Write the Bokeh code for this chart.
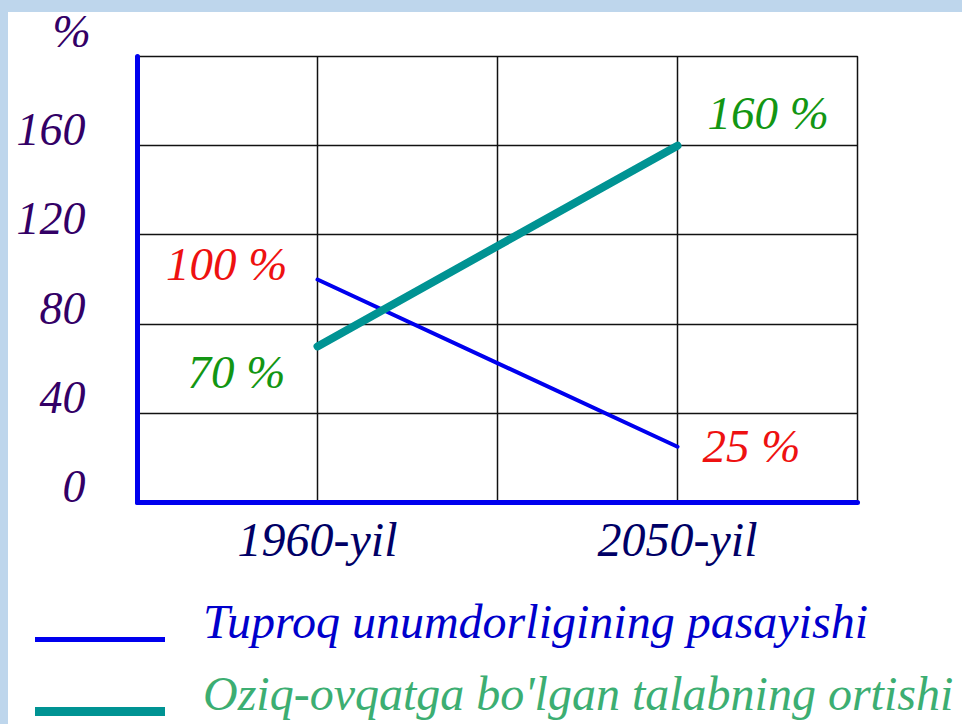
from bokeh.plotting import figure
from bokeh.layouts import column
from bokeh.models import (Range1d, LinearAxis, Grid, FixedTicker, Legend, LegendItem)
from bokeh.core.properties import value
from bokeh.embed import file_html
from bokeh.resources import INLINE

# ---- data ----
years = [1960, 2050]
year_labels = ["1960-yil", "2050-yil"]
fertility = [100, 25]          # Tuproq unumdorligi, %
demand = [70, 160]             # Oziq-ovqatga talab, %
series_names = ["Tuproq unumdorligining pasayishi",
                "Oziq-ovqatga bo'lgan talabning ortishi"]
y_ticks = [0, 40, 80, 120, 160]
y_grid = [0, 40, 80, 120, 160, 200]
x_grid = [1915, 1960, 2005, 2050, 2095]
unit_label = "%"

FONT = "Liberation Serif"
BLUE = "#0000ee"
TEAL = "#009393"
PAGE_BG = "#bed6ec"

p = figure(width=962, height=590, output_backend="svg", toolbar_location=None,
           x_range=Range1d(x_grid[0], x_grid[-1]), y_range=Range1d(y_grid[0], y_grid[-1]),
           x_axis_location=None, y_axis_location=None,
           min_border_left=137, min_border_right=105, min_border_top=56, min_border_bottom=88)
p.frame_align = False
p.center = []
p.background_fill_color = "white"
p.border_fill_alpha = 0
p.styles = {"background-color": "white", "box-shadow": f"inset 8px 12px 0 0 {PAGE_BG}"}
p.outline_line_color = "#111111"
p.outline_line_width = 1.5

# grids
p.add_layout(Grid(dimension=0, ticker=FixedTicker(ticks=x_grid),
                  grid_line_color="#111111", grid_line_width=1.5), "center")
p.add_layout(Grid(dimension=1, ticker=FixedTicker(ticks=y_grid),
                  grid_line_color="#111111", grid_line_width=1.5), "center")

# y label range shifted so labels sit on the grid lines
px_per_unit = 446 / (y_grid[-1] - y_grid[0])
shift = 16 / px_per_unit
p.extra_y_ranges = {"lab": Range1d(y_grid[0] - shift, y_grid[-1] - shift)}

yax = LinearAxis(y_range_name="lab", ticker=FixedTicker(ticks=y_ticks),
                 axis_line_color=BLUE, axis_line_width=5, axis_line_cap="round",
                 major_tick_line_color=None, minor_tick_line_color=None,
                 major_tick_out=0, major_tick_in=0, major_label_standoff=52,
                 major_label_text_font=FONT, major_label_text_font_style="italic",
                 major_label_text_font_size="46px", major_label_text_color="#330066")
p.add_layout(yax, "left")

xax = LinearAxis(ticker=FixedTicker(ticks=years),
                 major_label_overrides={y: l for y, l in zip(years, year_labels)},
                 axis_line_color=BLUE, axis_line_width=5, axis_line_cap="round",
                 major_tick_line_color=None, minor_tick_line_color=None,
                 major_tick_out=0, major_tick_in=0, major_label_standoff=10,
                 major_label_text_font=FONT, major_label_text_font_style="italic",
                 major_label_text_font_size="48px", major_label_text_color="#000066")
p.add_layout(xax, "below")

# unit label "%" as title
p.title.text = unit_label
p.title.align = "left"
p.title.offset = -85
p.title.standoff = 0
p.title.text_font = FONT
p.title.text_font_style = "italic"
p.title.text_font_size = "46px"
p.title.text_color = "#330066"

# lines
r_fert = p.line(years, fertility, line_color=BLUE, line_width=4, line_cap="round")
r_dem = p.line(years, demand, line_color=TEAL, line_width=8, line_cap="round")

RED = "#ee1111"
GREEN = "#139613"
def ann(x, y, txt, color, align, dx, dy):
    p.text(x=[x], y=[y], text=[txt], text_color=color, text_align=align,
           text_baseline="alphabetic", x_offset=dx, y_offset=dy,
           text_font=value(FONT), text_font_style="italic", text_font_size="47px")

ann(years[0], fertility[0], f"{fertility[0]} %", RED, "right", -30, -16)
ann(years[1], fertility[1], f"{fertility[1]} %", RED, "left", 25, -1)
ann(years[0], demand[0], f"{demand[0]} %", GREEN, "right", -32, 26)
ann(years[1], demand[1], f"{demand[1]} %", GREEN, "left", 30, -33)

# ---- legend panel (separate figure below) ----
p2 = figure(width=962, height=134, output_backend="svg", toolbar_location=None,
            x_range=Range1d(0, 1), y_range=Range1d(0, 1),
            x_axis_location=None, y_axis_location=None, min_border=0)
p2.frame_align = False
p2.center = []
p2.outline_line_color = None
p2.background_fill_alpha = 0
p2.border_fill_alpha = 0
p2.styles = {"background-color": "white", "box-shadow": f"inset 8px 0 0 0 {PAGE_BG}"}

nan = float("nan")
lg_fert = p2.line(x=[nan], y=[nan], line_color=BLUE, line_width=5, line_cap="round")
lg_dem = p2.line(x=[nan], y=[nan], line_color=TEAL, line_width=9, line_cap="round")
lg_none = p2.line(x=[nan], y=[nan], line_alpha=0)

def legend_box(items, loc, **kw):
    lg = Legend(items=items, location=loc, glyph_width=130, glyph_height=20,
                label_height=20, label_standoff=38, padding=0, margin=0, spacing=0,
                border_line_alpha=0, background_fill_alpha=0,
                label_text_font=FONT, label_text_font_style="italic", **kw)
    p2.add_layout(lg, "center")

# sample lines
legend_box([LegendItem(label=" ", renderers=[lg_fert])], (35, 75), label_text_font_size="1px")
legend_box([LegendItem(label=" ", renderers=[lg_dem])], (35, 3), label_text_font_size="1px")
# label texts
legend_box([LegendItem(label=series_names[0], renderers=[lg_none])], (35, 75),
           label_text_font_size="48px", label_text_color="#0000cc")
legend_box([LegendItem(label=series_names[1], renderers=[lg_none])], (35, 3),
           label_text_font_size="48px", label_text_color="#3cae72")

layout = column(p, p2, spacing=0)

open("out.html", "w").write(
    file_html(layout, INLINE).replace("<body>", f'<body style="background:{PAGE_BG}; overflow:hidden">', 1))
